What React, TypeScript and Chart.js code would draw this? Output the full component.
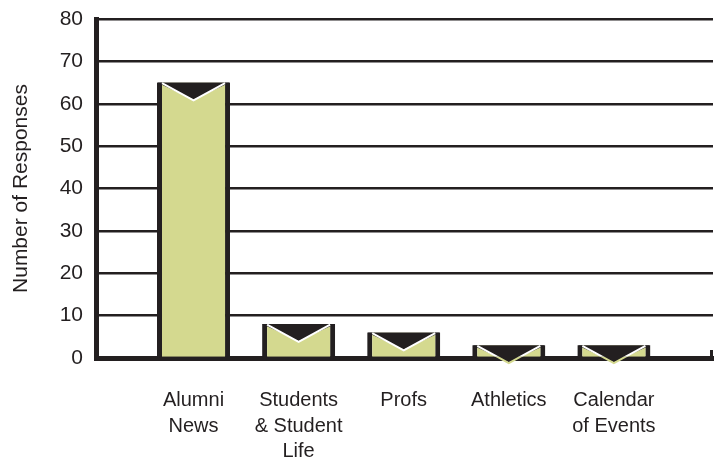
import React, { useEffect, useRef } from 'react';
import { Chart, registerables } from 'chart.js';

Chart.register(...registerables);

// ---- data ----
const categories: string[][] = [
  ['Alumni', 'News'],
  ['Students', '& Student', 'Life'],
  ['Profs'],
  ['Athletics'],
  ['Calendar', 'of Events'],
];
const responses: number[] = [65, 8, 6, 3, 3];
const yMin = 0;
const yMax = 80;
const yStep = 10;
const yTitle = 'Number of Responses';

const INK = '#231f20';
const FILL = '#d4d98f';

const flapPlugin = {
  id: 'flap',
  afterDatasetsDraw(chart: any) {
    const { ctx } = chart;
    const meta = chart.getDatasetMeta(0);
    meta.data.forEach((bar: any) => {
      const { x, y, width, base } = bar.getProps(['x', 'y', 'width', 'base'], true);
      const l = x - width / 2;
      const r = x + width / 2;
      const depth = 17;
      ctx.save();
      ctx.fillStyle = INK;
      ctx.beginPath();
      ctx.moveTo(l, y);
      ctx.lineTo(r, y);
      ctx.lineTo(x, y + depth);
      ctx.closePath();
      ctx.fill();
      const drawV = () => {
        ctx.beginPath();
        ctx.moveTo(l + 5, y + 0.5);
        ctx.lineTo(x, y + depth + 0.8);
        ctx.lineTo(r - 5, y + 0.5);
        ctx.stroke();
      };
      ctx.lineWidth = 2;
      ctx.save();
      ctx.beginPath();
      ctx.rect(l, y - 5, width, base - (y - 5));
      ctx.clip();
      ctx.strokeStyle = '#ffffff';
      drawV();
      ctx.restore();
      ctx.save();
      ctx.beginPath();
      ctx.rect(l, base, width, 30);
      ctx.clip();
      ctx.strokeStyle = FILL;
      drawV();
      ctx.restore();
      ctx.restore();
    });
  },
  afterDraw(chart: any) {
    const { ctx, chartArea } = chart;
    ctx.save();
    ctx.fillStyle = INK;
    ctx.fillRect(chartArea.right - 3, chartArea.bottom - 8, 3, 8);
    ctx.restore();
  },
};

export default function App() {
  const ref = useRef<HTMLCanvasElement | null>(null);

  useEffect(() => {
    if (!ref.current) return;
    const chart = new Chart(ref.current, {
      type: 'bar',
      data: {
        datasets: [
          {
            data: responses.map((v, i) => ({ x: i + 1, y: v })),
            backgroundColor: FILL,
            borderColor: INK,
            borderWidth: { left: 5, right: 5, top: 0, bottom: 0 },
            borderSkipped: false,
            categoryPercentage: 1,
            barPercentage: 0.695,
          },
        ],
      },
      plugins: [flapPlugin],
      options: {
        animation: false,
        responsive: true,
        maintainAspectRatio: false,
        layout: { padding: { top: 19, right: 8, bottom: 0, left: 0 } },
        plugins: { legend: { display: false }, tooltip: { enabled: false } },
        scales: {
          x: {
            type: 'linear',
            offset: false,
            min: 0.072,
            max: 5.943,
            z: 1,
            afterBuildTicks: (s: any) => {
              s.ticks = categories.map((_, i) => ({ value: i + 1 }));
            },
            afterFit: (s: any) => {
              s.height = 101;
              s.paddingLeft = 0;
              s.paddingRight = 0;
            },
            grid: { display: true, offset: false, drawOnChartArea: false, drawTicks: false, color: 'rgba(0,0,0,0)' },
            border: { display: true, width: 5, color: INK },
            ticks: {
              autoSkip: false,
              maxRotation: 0,
              padding: 30,
              color: INK,
              font: { family: '"Liberation Sans", sans-serif', size: 20, lineHeight: 1.275 },
              callback: (v: any) => categories[Math.round(Number(v)) - 1] ?? '',
            },
          },
          y: {
            min: yMin,
            max: yMax,
            afterFit: (s: any) => {
              s.width = 96;
              s.paddingTop = 0;
              s.paddingBottom = 0;
            },
            grid: { color: INK, lineWidth: 2.5, drawTicks: false },
            border: { display: true, width: 5, color: INK },
            ticks: {
              stepSize: yStep,
              padding: 13,
              color: INK,
              font: { family: '"Liberation Sans", sans-serif', size: 21 },
            },
            title: {
              display: true,
              text: yTitle,
              color: INK,
              padding: { top: 9, bottom: 0 },
              font: { family: '"Liberation Sans", sans-serif', size: 21 },
            },
          },
        },
      },
    } as any);
    return () => chart.destroy();
  }, []);

  return (
    <div style={{ position: 'absolute', left: 0, top: 0, width: 721, height: 459 }}>
      <canvas ref={ref} />
    </div>
  );
}
